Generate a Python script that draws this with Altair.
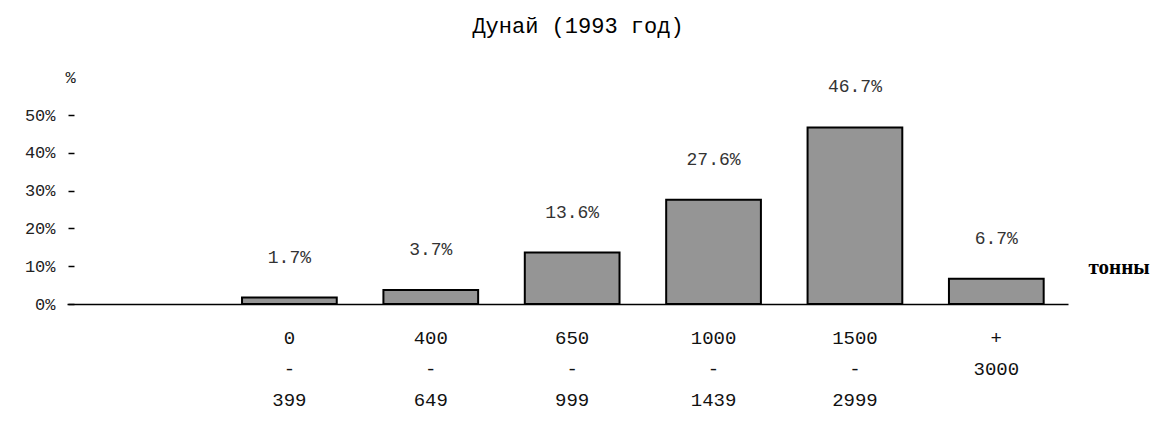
import altair as alt
import pandas as pd

title_text = "Дунай (1993 год)"
categories = ["0 - 399", "400 - 649", "650 - 999", "1000 - 1439", "1500 - 2999", "+ 3000"]
values = [1.7, 3.7, 13.6, 27.6, 46.7, 6.7]
value_labels = ["1.7%", "3.7%", "13.6%", "27.6%", "46.7%", "6.7%"]
y_ticks = [0, 10, 20, 30, 40, 50]

df = pd.DataFrame({"cat": categories, "val": values, "lab": value_labels})
df_title = pd.DataFrame({"t": [title_text]})

MONO = "Liberation Mono"

x_enc = alt.X(
    "cat:N",
    sort=categories,
    scale=alt.Scale(paddingInner=0.33, paddingOuter=0.705, align=0.878),
    axis=alt.Axis(
        title="тонны",
        titleFont="Liberation Serif",
        titleFontSize=21,
        titleFontWeight="bold",
        titleColor="#000",
        titleAngle=0,
        titleAlign="left",
        titleBaseline="middle",
        titleX=1021,
        titleY=-37,
        labelAngle=0,
        labelExpr="split(datum.label, ' ')",
        labelFont=MONO,
        labelFontSize=19,
        labelColor="#111",
        labelLineHeight=31,
        labelPadding=24,
        labelOverlap=False,
        ticks=False,
        domain=True,
        domainColor="#000",
        domainWidth=1.6,
        grid=False,
    ),
)

y_enc = alt.Y(
    "val:Q",
    scale=alt.Scale(domain=[0, 50], nice=False, zero=True),
    axis=alt.Axis(
        values=y_ticks,
        labelExpr="datum.value + '%'",
        labelFont=MONO,
        labelFontSize=17,
        labelColor="#222",
        labelPadding=13,
        labelOverlap=False,
        labelFlush=False,
        tickSize=6,
        tickWidth=1.5,
        tickColor="#000",
        offset=-7,
        domain=False,
        grid=False,
        title="%",
        titleFont=MONO,
        titleFontSize=17,
        titleFontWeight="normal",
        titleColor="#222",
        titleAngle=0,
        titleAlign="center",
        titleBaseline="middle",
        titleX=-4,
        titleY=-38,
    ),
)

base = alt.Chart(df).encode(x=x_enc, y=y_enc)

bars = base.mark_bar(fill="#959595", stroke="#000", strokeWidth=2)

texts = base.mark_text(
    dy=-40, baseline="middle", align="center", font=MONO, fontSize=18, color="#333"
).encode(text="lab:N")

title_mark = alt.Chart(df_title).mark_text(
    font=MONO, fontSize=22, color="#000", align="center", baseline="alphabetic"
).encode(x=alt.value(511), y=alt.value(-82), text="t:N")

chart = alt.layer(bars, texts, title_mark).properties(
    width=1001,
    height=189,
    padding={"left": 59, "top": 107, "right": 95, "bottom": 109},
    autosize=alt.AutoSizeParams(type="none"),
    background="white",
).configure_view(strokeWidth=0)

chart.save("out.html", embed_options={"renderer": "svg", "actions": False})
